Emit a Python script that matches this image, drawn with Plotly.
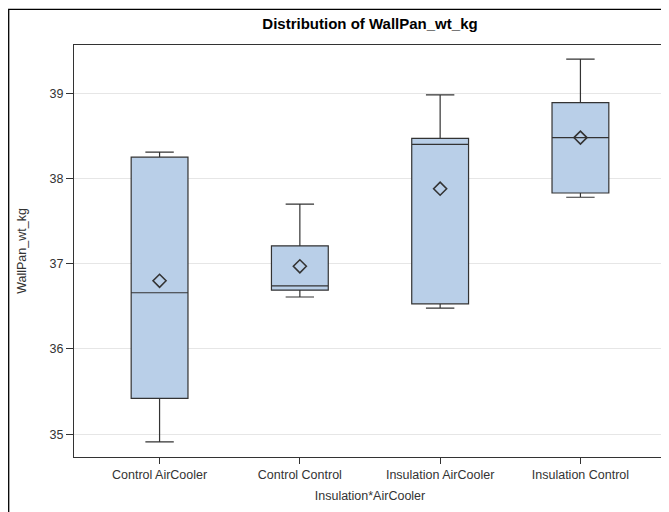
import plotly.graph_objects as go

categories = ["Control AirCooler", "Control Control", "Insulation AirCooler", "Insulation Control"]
q1_vals = [35.42, 36.69, 36.53, 37.83]
median_vals = [36.66, 36.74, 38.40, 38.48]
q3_vals = [38.25, 37.21, 38.47, 38.89]
lower_whisker = [34.91, 36.61, 36.48, 37.78]
upper_whisker = [38.31, 37.70, 38.98, 39.40]
mean_vals = [36.80, 36.97, 37.88, 38.48]

fig = go.Figure()
fig.add_trace(go.Box(
    x=categories,
    q1=q1_vals, median=median_vals, q3=q3_vals,
    lowerfence=lower_whisker, upperfence=upper_whisker,
    fillcolor="#B9CFE8",
    line=dict(color="#333333", width=1.2),
    width=0.405,
    whiskerwidth=0.5,
    boxpoints=False,
    showlegend=False,
    hoverinfo="skip",
))
fig.add_trace(go.Scatter(
    x=categories, y=mean_vals, mode="markers",
    marker=dict(symbol="diamond-open", size=10, color="#333333", line=dict(width=1.6, color="#333333")),
    showlegend=False, hoverinfo="skip",
))

W, H = 661, 504
L, R, T, B = 66, 3, 37, 55
pw, ph = W - L - R, H - T - B

font_family = "Liberation Sans, Arial, sans-serif"
fig.update_layout(
    width=W, height=H,
    margin=dict(l=L, r=R, t=T, b=B, autoexpand=False),
    paper_bgcolor="white", plot_bgcolor="white",
    font=dict(family=font_family, size=12.5, color="#333333"),
    title=dict(text="<b>Distribution of WallPan_wt_kg</b>", x=0.5, xref="paper", xanchor="center",
               y=1 - 16 / H, yanchor="middle", font=dict(size=15, color="#000000")),
    xaxis=dict(
        type="category", range=[-0.61, 3.61],
        showline=True, linecolor="#333333", linewidth=1, mirror=True,
        ticks="outside", ticklen=6, tickcolor="#333333",
        showgrid=False, automargin=False,
        title=dict(text="Insulation*AirCooler", standoff=10, font=dict(size=12.5, color="#333333")),
        tickfont=dict(size=12.5, color="#333333"),
    ),
    yaxis=dict(
        range=[34.733, 39.566], dtick=1, tick0=35,
        showline=True, linecolor="#333333", linewidth=1, mirror=True,
        ticks="outside", ticklen=7, tickcolor="#333333",
        showgrid=True, gridcolor="#E6E6E6", gridwidth=1, zeroline=False, automargin=False,
        title=dict(text="WallPan_wt_kg", standoff=20, font=dict(size=12.5, color="#333333")),
        tickfont=dict(size=12.5, color="#333333"),
    ),
    shapes=[dict(type="rect", xref="paper", yref="paper",
                 x0=(0.7 - L) / pw, x1=(W + 20 - L) / pw,
                 y0=(ph + T - (H + 20)) / ph, y1=(ph + T - 1.3) / ph,
                 line=dict(color="#000000", width=1.3), fillcolor="rgba(0,0,0,0)", layer="above")],
)

fig.write_html("out.html")
